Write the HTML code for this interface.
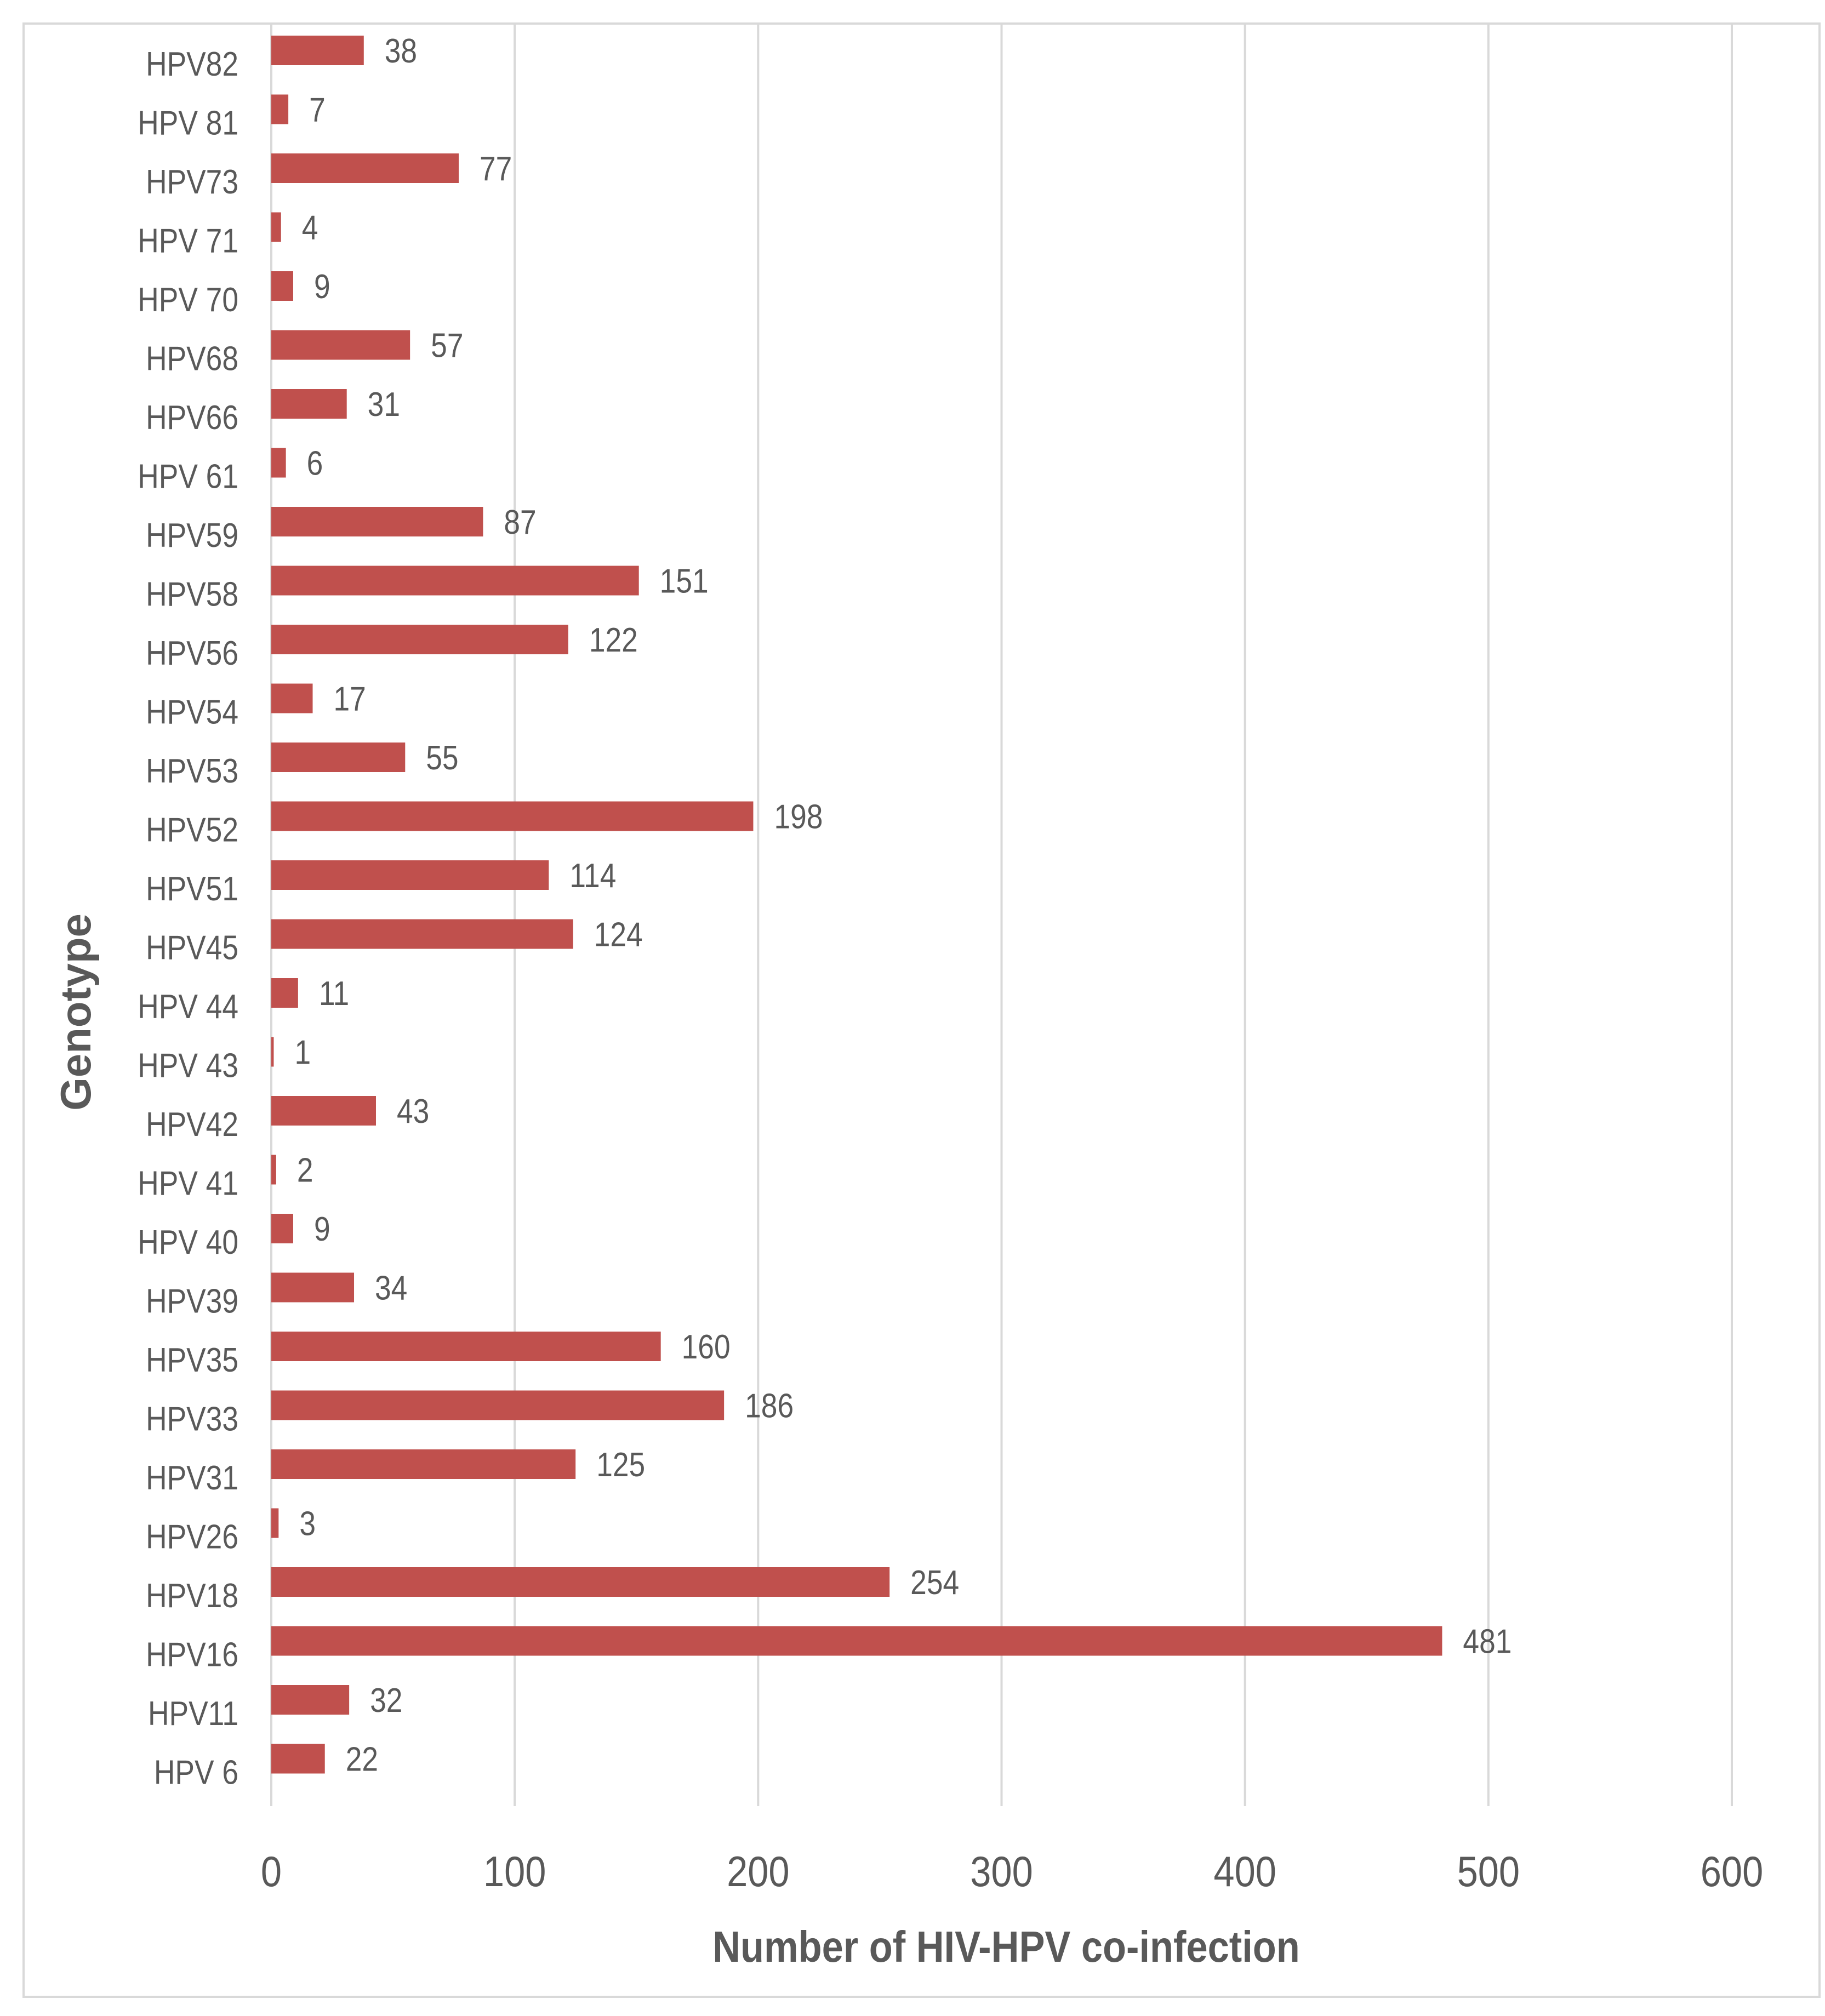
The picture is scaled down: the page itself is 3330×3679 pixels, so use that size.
<!DOCTYPE html>
<html><head><meta charset="utf-8"><style>
html,body{margin:0;padding:0;background:#fff;}
svg{display:block;}
text{font-family:"Liberation Sans",sans-serif;fill:#595959;}
</style></head><body>
<svg id="chart" width="3330" height="3679" viewBox="0 0 3330 3679" xmlns="http://www.w3.org/2000/svg">
<rect x="43" y="43" width="3277" height="3601" fill="#fff" stroke="#d9d9d9" stroke-width="4"/>
<g id="grid"></g><g id="bars"></g><g id="labels"></g>
<text x="1836" y="3580" text-anchor="middle" font-size="80" font-weight="bold" transform="translate(1836 0) scale(0.88 1) translate(-1836 0)">Number of HIV-HPV co-infection</text>
<text x="0" y="0" text-anchor="middle" font-size="78" font-weight="bold" transform="translate(165 1847) rotate(-90)">Genotype</text>
</svg>
<script>
const categories = ["HPV82","HPV 81","HPV73","HPV 71","HPV 70","HPV68","HPV66","HPV 61","HPV59","HPV58","HPV56","HPV54","HPV53","HPV52","HPV51","HPV45","HPV 44","HPV 43","HPV42","HPV 41","HPV 40","HPV39","HPV35","HPV33","HPV31","HPV26","HPV18","HPV16","HPV11","HPV 6"];
const values = [38,7,77,4,9,57,31,6,87,151,122,17,55,198,114,124,11,1,43,2,9,34,160,186,125,3,254,481,32,22];
const tickValues = [0,100,200,300,400,500,600];
const tickLabels = ["0","100","200","300","400","500","600"];

const NS = "http://www.w3.org/2000/svg";
const x0 = 495, x1 = 3160, xMax = 600;
const xs = v => x0 + (v / xMax) * (x1 - x0);
const firstCenter = 92, pitch = 107.5, barH = 54;
const ys = i => firstCenter + i * pitch;
const grid = document.getElementById('grid');
const bars = document.getElementById('bars');
const labels = document.getElementById('labels');

tickValues.forEach((t, i) => {
  const l = document.createElementNS(NS, 'line');
  
  
  l.setAttribute('x1', xs(t)); l.setAttribute('x2', xs(t));
  l.setAttribute('y1', 43); l.setAttribute('y2', 3296);
  l.setAttribute('stroke', '#d9d9d9'); l.setAttribute('stroke-width', 4);
  grid.appendChild(l);
  const tx = document.createElementNS(NS, 'text');
  
  
  tx.setAttribute('x', xs(t)); tx.setAttribute('y', 3442);
  tx.setAttribute('text-anchor', 'middle'); tx.setAttribute('font-size', 78);
  tx.setAttribute('transform', `translate(${xs(t)} 0) scale(0.88 1) translate(${-xs(t)} 0)`);
  tx.textContent = tickLabels[i];
  labels.appendChild(tx);
});

categories.forEach((c, i) => {
  const y = ys(i);
  const r = document.createElementNS(NS, 'rect');
  
  
  r.setAttribute('x', x0); r.setAttribute('y', y - barH / 2);
  r.setAttribute('width', Math.max(xs(values[i]) - x0, 2)); r.setAttribute('height', barH);
  r.setAttribute('fill', '#c0504d');
  bars.appendChild(r);
  const lab = document.createElementNS(NS, 'text');
  
  
  lab.setAttribute('x', 435); lab.setAttribute('y', y + 46);
  lab.setAttribute('text-anchor', 'end'); lab.setAttribute('font-size', 62);
  lab.setAttribute('transform', `translate(435 0) scale(0.86 1) translate(-435 0)`);
  lab.textContent = c;
  labels.appendChild(lab);
  const vl = document.createElementNS(NS, 'text');
  
  
  const vx = xs(values[i]) + 38;
  vl.setAttribute('x', vx); vl.setAttribute('y', y + 22);
  vl.setAttribute('font-size', 62);
  vl.setAttribute('transform', `translate(${vx} 0) scale(0.86 1) translate(${-vx} 0)`);
  vl.textContent = values[i];
  labels.appendChild(vl);
});
</script>
</body></html>
